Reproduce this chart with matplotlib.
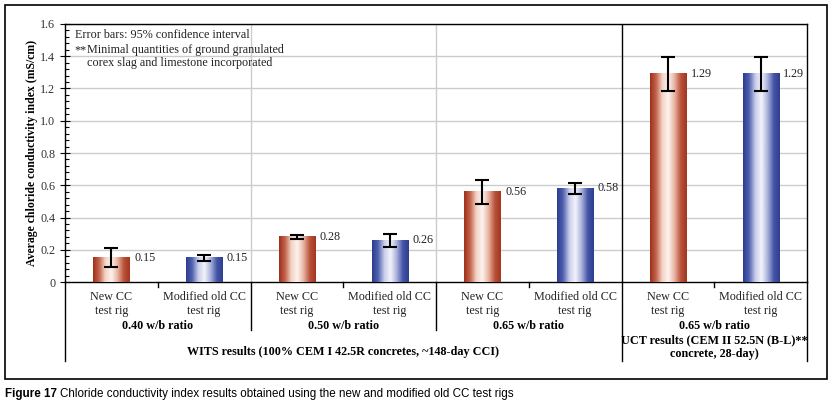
import numpy as np
import matplotlib.pyplot as plt
from matplotlib.colors import LinearSegmentedColormap
from matplotlib.patches import Rectangle
from matplotlib.ticker import MultipleLocator
import matplotlib.transforms as mtransforms

# Data
categories = ["New CC\ntest rig", "Modified old CC\ntest rig"] * 4
values = [0.15, 0.15, 0.28, 0.26, 0.56, 0.58, 1.29, 1.29]
errors = [0.06, 0.02, 0.012, 0.04, 0.075, 0.037, 0.105, 0.105]
value_labels = ["0.15", "0.15", "0.28", "0.26", "0.56", "0.58", "1.29", "1.29"]
group_labels = ["0.40 w/b ratio", "0.50 w/b ratio", "0.65 w/b ratio", "0.65 w/b ratio"]
wits_label = "WITS results (100% CEM I 42.5R concretes, ~148-day CCI)"
uct_label = "UCT results (CEM II 52.5N (B-L)**\nconcrete, 28-day)"
yticks = [0, 0.2, 0.4, 0.6, 0.8, 1.0, 1.2, 1.4, 1.6]
ytick_labels = ["0", "0.2", "0.4", "0.6", "0.8", "1.0", "1.2", "1.4", "1.6"]

plt.rcParams['font.family'] = ['Liberation Serif', 'DejaVu Serif']
fs = 8.7

red_cmap = LinearSegmentedColormap.from_list(
    "red", ["#9e2f1a", "#c4644c", "#f4d4c8", "#fdf3ee", "#e9b3a2", "#b9533a", "#a33520"])
blue_cmap = LinearSegmentedColormap.from_list(
    "blue", ["#2a3a8e", "#5262b0", "#c8cdea", "#f4f4fb", "#aab2dc", "#4656a6", "#2c3c90"])

fig = plt.figure(figsize=(8.31, 4.11), dpi=100)
ax = fig.add_axes([65 / 831, 1 - 282 / 411, (807 - 65) / 831, (282 - 24) / 411])

bar_w = 0.39
grad = np.linspace(0, 1, 256).reshape(1, -1)
for i, (v, e) in enumerate(zip(values, errors)):
    x = i + 0.5
    cmap = red_cmap if i % 2 == 0 else blue_cmap
    ax.imshow(grad, cmap=cmap, aspect='auto', extent=[x - bar_w / 2, x + bar_w / 2, 0, v],
              zorder=3, interpolation='bicubic')
    ax.errorbar(x, v, yerr=e, fmt='none', ecolor='black', elinewidth=1.5,
                capsize=4.7, capthick=1.5, zorder=4)
    ax.text(x + bar_w / 2 + 0.05, v, value_labels[i], fontsize=fs, va='center',
            ha='left', color='#222222', zorder=5)

ax.set_xlim(0, 8)
ax.set_ylim(0, 1.6)
ax.set_yticks(yticks)
ax.set_yticklabels(ytick_labels, fontsize=fs, color='#333333')
ax.yaxis.set_minor_locator(MultipleLocator(0.04))
ax.tick_params(axis='y', which='major', direction='inout', length=7, width=0.8)
ax.tick_params(axis='y', which='minor', direction='in', length=3, width=0.8)
ax.set_xticks([])
ax.set_ylabel("Average chloride conductivity index (mS/cm)", fontsize=8.5,
              fontweight='bold')
ax.yaxis.set_label_coords(-0.036, 0.5)

# gridlines
for y in yticks[1:]:
    ax.axhline(y, color='#cccccc', lw=1, zorder=1)
ax.axvline(2, color='#cccccc', lw=1, zorder=1)
ax.axvline(4, color='#cccccc', lw=1, zorder=1)
ax.axvline(6, color='black', lw=1, zorder=2)
for s in ax.spines.values():
    s.set_linewidth(1.0)

# labels under the axis
trans = mtransforms.blended_transform_factory(ax.transData, ax.transAxes)
px = 1 / 258  # one pixel in axes fraction (height)
for i, c in enumerate(categories):
    ax.text(i + 0.5, -9 * px, c, transform=trans, ha='center', va='top',
            fontsize=fs, linespacing=1.2, color='#222222')
for g, lab in enumerate(group_labels):
    ax.text(2 * g + 1, -44 * px, lab, transform=trans, ha='center', va='center',
            fontsize=fs, fontweight='bold')
    ax.plot([2 * g + 1, 2 * g + 1], [0, -5 * px], transform=trans, color='black',
            lw=1, clip_on=False)
for xs in [2, 4]:
    ax.plot([xs, xs], [0, -48 * px], transform=trans, color='black', lw=1, clip_on=False)
for xs in [0, 6, 8]:
    ax.plot([xs, xs], [0, -79 * px], transform=trans, color='black', lw=1, clip_on=False)
ax.text(3, -70 * px, wits_label, transform=trans, ha='center', va='center',
        fontsize=fs, fontweight='bold')
ax.text(7, -65 * px, uct_label, transform=trans, ha='center', va='center',
        fontsize=fs, fontweight='bold', linespacing=1.2)

# notes
ax.text(0.108, 1.532, "Error bars: 95% confidence interval", fontsize=fs,
        va='center', ha='left', color='#222222')
ax.text(0.10, 1.439, "**", fontsize=fs, va='center', ha='left', color='#222222')
ax.text(0.24, 1.439, "Minimal quantities of ground granulated", fontsize=fs,
        va='center', ha='left', color='#222222')
ax.text(0.24, 1.358, "corex slag and limestone incorporated", fontsize=fs,
        va='center', ha='left', color='#222222')

# outer frame
fig.patches.append(Rectangle((5 / 831, 1 - 379 / 411), 822 / 831, 374 / 411,
                             transform=fig.transFigure, fill=False,
                             edgecolor='black', lw=1.2))

# caption
cap_font = ['Liberation Sans Narrow', 'Liberation Sans', 'DejaVu Sans']
cap = fig.text(5 / 831, 1 - 394 / 411, "Figure 17", fontsize=8.4, va='center', ha='left',
               family=cap_font, fontweight='bold')
fig.canvas.draw()
bb = cap.get_window_extent()
fig.text((bb.x1 + 3) / 831, 1 - 394 / 411,
         "Chloride conductivity index results obtained using the new and modified old CC test rigs",
         fontsize=8.4, va='center', ha='left', family=cap_font)

fig.savefig("out.png", dpi=100)
